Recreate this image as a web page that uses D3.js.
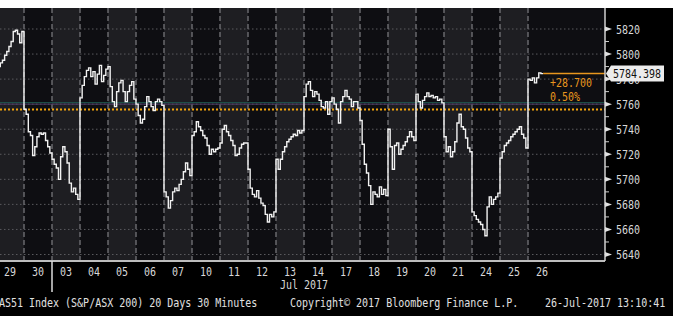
<!DOCTYPE html>
<html>
<head>
<meta charset="utf-8">
<script src="https://cdn.jsdelivr.net/npm/d3@7"></script>
<style>
  body { margin: 0; background: #000; }
  text { font-family: "DejaVu Sans Mono", "Liberation Mono", monospace; font-size: 10px; }
</style>
</head>
<body>
<div id="chart"></div>
<script>
// AS51 30 minute closes, one array per session (13 bars per full day)
var days = ["29","30","03","04","05","06","07","10","11","12","13","14","17","18","19","20","21","24","25","26"];

var d29 = [5788, 5790, 5793, 5795, 5799, 5802, 5806, 5810, 5818, 5819, 5816, 5809, 5818];
var d30 = [5756, 5752, 5738, 5735, 5719, 5726, 5734, 5737, 5736, 5737, 5731, 5726, 5721];
var d03 = [5716, 5712, 5709, 5700, 5718, 5726, 5722, 5713, 5697, 5690, 5693, 5688, 5684];
var d04 = [5765, 5775, 5782, 5787, 5789, 5782, 5786, 5776, 5784, 5791, 5778, 5783, 5788];
var d05 = [5790, 5774, 5762, 5758, 5770, 5777, 5779, 5770, 5762, 5770, 5775, 5778, 5764];
var d06 = [5760, 5751, 5745, 5748, 5758, 5766, 5762, 5758, 5755, 5762, 5764, 5762, 5759];
var d07 = [5690, 5686, 5677, 5683, 5690, 5693, 5691, 5696, 5700, 5706, 5713, 5708, 5703];
var d10 = [5735, 5738, 5746, 5742, 5739, 5735, 5733, 5727, 5720, 5724, 5722, 5724, 5725];
var d11 = [5729, 5740, 5743, 5738, 5735, 5731, 5727, 5719, 5720, 5725, 5728, 5729, 5729];
var d12 = [5708, 5693, 5688, 5686, 5691, 5685, 5681, 5679, 5672, 5666, 5672, 5670, 5674];
var d13 = [5716, 5708, 5716, 5722, 5726, 5730, 5732, 5734, 5736, 5735, 5739, 5737, 5739];
var d14 = [5766, 5776, 5778, 5771, 5766, 5770, 5768, 5763, 5758, 5757, 5762, 5752, 5762];
var d17 = [5765, 5760, 5756, 5745, 5762, 5766, 5771, 5766, 5764, 5758, 5762, 5762, 5757];
var d18 = [5747, 5728, 5712, 5705, 5695, 5680, 5690, 5688, 5686, 5694, 5688, 5692, 5687];
var d19 = [5740, 5726, 5708, 5727, 5729, 5720, 5724, 5727, 5730, 5734, 5738, 5734, 5731];
var d20 = [5768, 5762, 5757, 5763, 5766, 5769, 5766, 5767, 5765, 5766, 5763, 5764, 5761];
var d21 = [5734, 5722, 5726, 5718, 5722, 5730, 5745, 5752, 5742, 5740, 5733, 5725, 5722];
var d24 = [5674, 5671, 5668, 5666, 5664, 5660, 5655, 5678, 5686, 5680, 5684, 5686, 5689];
var d25 = [5717, 5722, 5727, 5729, 5731, 5734, 5736, 5738, 5740, 5742, 5736, 5733, 5725];
var d26 = [5780, 5779, 5781, 5777, 5781, 5785, 5784.398];

var sessions = [d29, d30, d03, d04, d05, d06, d07, d10, d11, d12, d13, d14, d17, d18, d19, d20, d21, d24, d25, d26];

var yTicks = [5640, 5660, 5680, 5700, 5720, 5740, 5760, 5780, 5800, 5820];
var yMinor = [5650, 5670, 5690, 5710, 5730, 5750, 5770, 5790, 5810];
var prevClose = 5755.698;
var lastPrice = 5784.398;
var changeLabels = ["+28.700", "0.50%"];
var footer = ["AS51 Index (S&P/ASX 200) 20 Days 30 Minutes", "Copyright\u00a9 2017 Bloomberg Finance L.P.", "26-Jul-2017 13:10:41"];

var barsPerDay = 13;
var width = 673, height = 316;
var plot = {left: 0, right: 605, top: 8, bottom: 261};

var xScale = d3.scaleLinear().domain([0, days.length]).range([-4, 556]);
var yScale = d3.scaleLinear().domain([5640, 5820]).range([254.5, 29]);

var svg = d3.select("#chart").append("svg")
  .attr("width", width)
  .attr("height", height)
  .style("display", "block");

svg.append("rect").attr("width", width).attr("height", height).attr("fill", "#000");
svg.append("rect").attr("width", width).attr("height", plot.top).attr("fill", "#fff");

svg.append("clipPath").attr("id", "clip")
  .append("rect")
  .attr("x", plot.left).attr("y", plot.top)
  .attr("width", plot.right - plot.left).attr("height", plot.bottom - plot.top);

var body = svg.append("g").attr("clip-path", "url(#clip)");

// alternating day columns
body.selectAll("rect.day")
  .data(days)
  .enter()
  .append("rect")
  .attr("class", "day")
  .attr("x", function(d, i) { return xScale(i); })
  .attr("width", function(d, i) { return (i == days.length - 1 ? plot.right : xScale(i + 1)) - xScale(i); })
  .attr("y", plot.top)
  .attr("height", plot.bottom - plot.top)
  .attr("fill", function(d, i) { return i % 2 == 0 ? "#1e1e22" : "#0e0e12"; });

// horizontal dotted grid
body.selectAll("line.hgrid")
  .data(yTicks)
  .enter()
  .append("line")
  .attr("x1", plot.left).attr("x2", plot.right)
  .attr("y1", function(d) { return yScale(d); })
  .attr("y2", function(d) { return yScale(d); })
  .style("stroke", "#5a5a5e")
  .style("stroke-width", 1)
  .style("stroke-dasharray", "1.5,2.5");

// day separators
body.selectAll("line.vgrid")
  .data(d3.range(1, days.length))
  .enter()
  .append("line")
  .attr("x1", function(d) { return xScale(d); })
  .attr("x2", function(d) { return xScale(d); })
  .attr("y1", plot.top).attr("y2", plot.bottom)
  .style("stroke", "#6e6e72")
  .style("stroke-width", 1.4)
  .style("stroke-dasharray", "5,3");

// faint study lines near 5760
body.append("line")
  .attr("x1", plot.left).attr("x2", plot.right)
  .attr("y1", yScale(5761.2)).attr("y2", yScale(5761.2))
  .style("stroke", "#1f5a50").style("stroke-width", 1);
body.append("line")
  .attr("x1", plot.left).attr("x2", plot.right)
  .attr("y1", yScale(5760)).attr("y2", yScale(5760))
  .style("stroke", "#4e3a66").style("stroke-width", 1);

// previous close
body.append("line")
  .attr("x1", plot.left).attr("x2", plot.right)
  .attr("y1", yScale(prevClose)).attr("y2", yScale(prevClose))
  .style("stroke", "#f2a30f")
  .style("stroke-width", 2)
  .style("stroke-dasharray", "2,2");

// price series
var pts = [];
sessions.forEach(function(vals, i) {
  vals.forEach(function(v, k) { pts.push({t: i + k / barsPerDay, v: v}); });
});
var last = pts[pts.length - 1];
pts.push({t: last.t + 1 / barsPerDay, v: last.v});

var lineGenerator = d3.line()
  .curve(d3.curveStepAfter)
  .x(function(d) { return xScale(d.t); })
  .y(function(d) { return yScale(d.v); });

body.append("path")
  .datum(pts)
  .attr("d", lineGenerator)
  .style("fill", "none")
  .style("stroke", "#f2f2f2")
  .style("stroke-width", 1.4);

// last price marker
var lastX = xScale(last.t + 1 / barsPerDay);
svg.append("line")
  .attr("x1", lastX).attr("x2", plot.right)
  .attr("y1", yScale(lastPrice)).attr("y2", yScale(lastPrice))
  .style("stroke", "#e8961e").style("stroke-width", 1.5);

function label(g, x, y, str, anchor, fill) {
  return g.append("text")
    .attr("transform", "translate(" + x + "," + y + ") scale(1,1.25)")
    .attr("text-anchor", anchor)
    .attr("fill", fill)
    .text(str);
}

changeLabels.forEach(function(s, i) {
  label(svg, 550, yScale(lastPrice) + 13 + i * 14, s, "start", "#e8961e");
});

// axes
svg.append("line")
  .attr("x1", plot.left).attr("x2", plot.right)
  .attr("y1", plot.bottom).attr("y2", plot.bottom)
  .style("stroke", "#bdbdbd").style("stroke-width", 2);
svg.append("line")
  .attr("x1", plot.right).attr("x2", plot.right)
  .attr("y1", plot.top).attr("y2", plot.bottom)
  .style("stroke", "#d0d0d0").style("stroke-width", 1.5);

var yAxis = svg.append("g");
yTicks.forEach(function(v) {
  var y = yScale(v);
  yAxis.append("path")
    .attr("d", "M" + plot.right + "," + (y - 2.5) + "L" + (plot.right + 7) + "," + y + "L" + plot.right + "," + (y + 2.5) + "Z")
    .attr("fill", "#e0e0e0");
  label(yAxis, 616, y + 4.5, d3.format("d")(v), "start", "#d8d8d8");
});
yMinor.forEach(function(v) {
  yAxis.append("line")
    .attr("x1", plot.right).attr("x2", plot.right + 4)
    .attr("y1", yScale(v)).attr("y2", yScale(v))
    .style("stroke", "#cfcfcf").style("stroke-width", 1);
});

// last price tag
var tagY = yScale(lastPrice);
svg.append("path")
  .attr("d", "M" + (plot.right + 1) + "," + tagY + "L" + 611 + "," + (tagY - 8) + "L664," + (tagY - 8) + "L664," + (tagY + 8) + "L611," + (tagY + 8) + "Z")
  .attr("fill", "#ececec");
label(svg, 613, tagY + 4.5, d3.format(".3f")(lastPrice), "start", "#111");

// x axis labels
var xAxis = svg.append("g");
days.forEach(function(d, i) {
  label(xAxis, xScale(i + 0.5), 276, d, "middle", "#d8d8d8");
});
xAxis.append("line")
  .attr("x1", xScale(2)).attr("x2", xScale(2))
  .attr("y1", plot.bottom).attr("y2", 292)
  .style("stroke", "#dcdcdc").style("stroke-width", 1.5);
label(xAxis, 304, 289, "Jul 2017", "middle", "#d8d8d8");

// footer
label(svg, -1, 306.5, footer[0], "start", "#e0e0e0");
label(svg, 290, 306.5, footer[1], "start", "#e0e0e0");
label(svg, 545, 306.5, footer[2], "start", "#e0e0e0");
</script>
</body>
</html>
